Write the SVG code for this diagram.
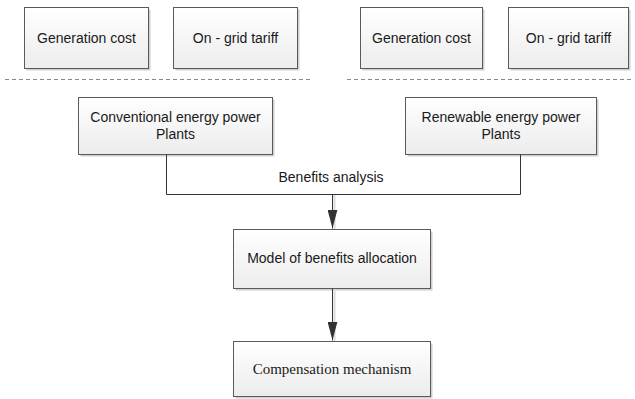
<svg xmlns="http://www.w3.org/2000/svg" width="635" height="399" viewBox="0 0 635 399">
<defs>
<linearGradient id="g" x1="0" y1="0" x2="0" y2="1">
<stop offset="0" stop-color="#ffffff"/>
<stop offset="1" stop-color="#ececec"/>
</linearGradient>
<marker id="ah" markerWidth="20" markerHeight="10" refX="19" refY="5" orient="auto" markerUnits="userSpaceOnUse" viewBox="0 0 20 10">
<path d="M0,0 L19,5 L0,10 Z" fill="#333"/>
</marker>
</defs>
<style>
.box{fill:url(#g);stroke:#5a5a5a;stroke-width:1}
.sh{fill:#cfcfcf}
.t{font-family:"Liberation Sans",Arial,sans-serif;font-size:14px;fill:#1a1a1a;text-anchor:middle}
.ts{font-family:"Liberation Serif","Times New Roman",serif;font-size:15px;fill:#1a1a1a;text-anchor:middle}
.c{fill:none;stroke:#333;stroke-width:1}
.d{fill:none;stroke:#8a8a8a;stroke-width:1;stroke-dasharray:4 3}
</style>
<g id="gen1"><rect class="sh" x="26.5" y="9.5" width="124" height="61"/><rect class="box" x="24.5" y="7.5" width="124" height="61"/><text class="t" x="86.5" y="43">Generation cost</text></g>
<g id="tariff1"><rect class="sh" x="175.5" y="9.5" width="124" height="61"/><rect class="box" x="173.5" y="7.5" width="124" height="61"/><text class="t" x="235.5" y="43">On - grid tariff</text></g>
<g id="gen2"><rect class="sh" x="362.5" y="9.5" width="122" height="61"/><rect class="box" x="360.5" y="7.5" width="122" height="61"/><text class="t" x="421.5" y="43">Generation cost</text></g>
<g id="tariff2"><rect class="sh" x="510.5" y="9.5" width="120" height="61"/><rect class="box" x="508.5" y="7.5" width="120" height="61"/><text class="t" x="568.5" y="43">On - grid tariff</text></g>
<g id="dividers"><line class="d" x1="5" y1="79.5" x2="312" y2="79.5"/><line class="d" x1="347" y1="79.5" x2="634" y2="79.5"/></g>
<g id="conventional"><rect class="sh" x="80.5" y="99.5" width="194" height="57"/><rect class="box" x="78.5" y="97.5" width="194" height="57"/><text class="t" x="175.5" y="122">Conventional energy power</text><text class="t" x="175.5" y="139">Plants</text></g>
<g id="renewable"><rect class="sh" x="407.5" y="99.5" width="191" height="57"/><rect class="box" x="405.5" y="97.5" width="191" height="57"/><text class="t" x="501" y="122">Renewable energy power</text><text class="t" x="501" y="139">Plants</text></g>
<g id="model"><rect class="sh" x="235.5" y="231.5" width="197" height="59"/><rect class="box" x="233.5" y="229.5" width="197" height="59"/><text class="t" x="332" y="263">Model of benefits allocation</text></g>
<g id="compensation"><rect class="sh" x="235.5" y="343.5" width="197" height="55"/><rect class="box" x="233.5" y="341.5" width="197" height="55"/><text class="ts" x="332" y="374">Compensation mechanism</text></g>
<g id="connectors">
<polyline class="c" points="166.5,154.5 166.5,194.5 520.5,194.5 520.5,154.5"/>
<line x1="334.5" y1="195" x2="334.5" y2="229" stroke="#dcdcdc" stroke-width="2"/>
<line class="c" x1="332.5" y1="194.5" x2="332.5" y2="228.5" marker-end="url(#ah)"/>
<line x1="334.5" y1="289" x2="334.5" y2="341" stroke="#dcdcdc" stroke-width="2"/>
<line class="c" x1="332.5" y1="288.5" x2="332.5" y2="340.5" marker-end="url(#ah)"/>
<text class="t" x="331" y="182">Benefits analysis</text>
</g>
</svg>
